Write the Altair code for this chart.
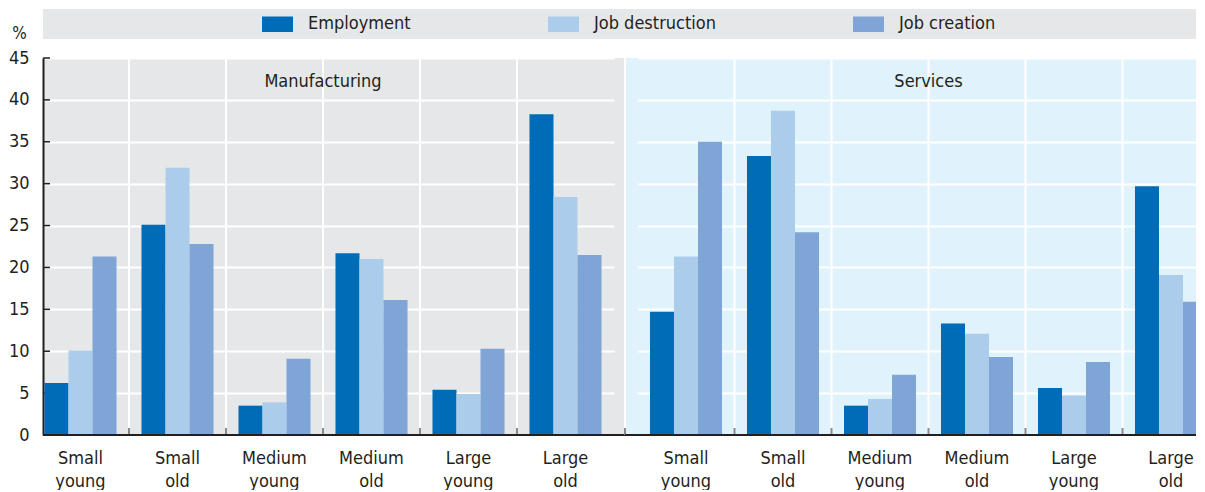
import altair as alt
import pandas as pd

# ---------------- data ----------------
categories = ["Small young", "Small old", "Medium young", "Medium old", "Large young", "Large old"]
sectors = ["Manufacturing", "Services"]
series = ["Employment", "Job destruction", "Job creation"]
colors = ["#006bb6", "#abcdeb", "#7fa4d6"]

manufacturing_employment = [6.2, 25.1, 3.5, 21.7, 5.4, 38.3]
manufacturing_destruction = [10.1, 31.9, 3.9, 21.0, 4.9, 28.4]
manufacturing_creation = [21.3, 22.8, 9.1, 16.1, 10.3, 21.5]

services_employment = [14.7, 33.3, 3.5, 13.3, 5.6, 29.7]
services_destruction = [21.3, 38.7, 4.3, 12.1, 4.7, 19.1]
services_creation = [35.0, 24.2, 7.2, 9.3, 8.7, 15.9]

y_ticks = [0, 5, 10, 15, 20, 25, 30, 35, 40, 45]

values = {
    "Manufacturing": [manufacturing_employment, manufacturing_destruction, manufacturing_creation],
    "Services": [services_employment, services_destruction, services_creation],
}
rows = []
for sec in sectors:
    for s, vals in zip(series, values[sec]):
        for c, v in zip(categories, vals):
            rows.append({"sector": sec, "category": c, "series": s, "value": v})
df = pd.DataFrame(rows)

# ---------------- style ----------------
FONT = "DejaVu Sans Condensed, Liberation Sans Narrow, Roboto, sans-serif"
FS = 18
TXT = "#231f20"
H = 377
W_MFG = 582
W_SRV = 571
TOTAL_W = W_MFG + W_SRV
OVERFLOW = 11  # last services bars run past the panel edge and are cropped
BG = {"Manufacturing": "#e6e7e9", "Services": "#e0f2fc"}

yscale = alt.Scale(domain=[0, 45], nice=False, zero=True)


def panel(sector, width, x_range, grid_cats, grid_pos, first):
    xscale = alt.Scale(domain=categories, range=x_range, paddingInner=0, paddingOuter=0)
    d = df[df.sector == sector]
    grid_df = pd.DataFrame({"category": grid_cats})
    lab_df = pd.DataFrame({"category": [categories[2]], "label": [sector]})

    if first:
        yaxis = alt.Axis(values=y_ticks, grid=True, gridColor="white", gridWidth=2, gridOpacity=1,
                         domain=True, domainColor=TXT, domainWidth=2, ticks=False,
                         labelPadding=14, labelFontSize=FS, labelColor=TXT, labelFont=FONT,
                         title="%", titleAngle=0, titleX=-24, titleY=-20, titleAlign="center",
                         titleBaseline="alphabetic", titleFontSize=FS - 1, titleFontWeight="normal",
                         titleColor=TXT, titleFont=FONT)
    else:
        yaxis = alt.Axis(values=y_ticks, grid=True, gridColor="white", gridWidth=2, gridOpacity=1,
                         domain=False, ticks=False, labels=False, title=None)

    xaxis = alt.Axis(title=None, domain=False, ticks=False, grid=False, labelAngle=0,
                     labelFontSize=FS, labelColor=TXT, labelFont=FONT, labelPadding=14,
                     labelLineHeight=23, labelExpr="split(datum.label, ' ')")

    grid = alt.Chart(grid_df).mark_rule(color="white", strokeWidth=2).encode(
        x=alt.X("category:N", scale=xscale, sort=categories, bandPosition=grid_pos, axis=xaxis),
        y=alt.value(0), y2=alt.value(H))
    xticks = alt.Chart(grid_df).mark_rule(color="#8a8a8a", strokeWidth=2).encode(
        x=alt.X("category:N", scale=xscale, sort=categories, bandPosition=grid_pos, axis=xaxis),
        y=alt.value(H - 7), y2=alt.value(H))

    bars = alt.Chart(d).mark_bar(clip=True).encode(
        x=alt.X("category:N", scale=xscale, sort=categories, axis=xaxis),
        xOffset=alt.XOffset("series:N", sort=series,
                            scale=alt.Scale(domain=series, paddingInner=0, paddingOuter=0.52)),
        y=alt.Y("value:Q", scale=yscale, axis=yaxis),
        color=alt.Color("series:N", sort=series, scale=alt.Scale(domain=series, range=colors),
                        legend=alt.Legend(orient="none", legendX=219, legendY=-49.5,
                                          direction="horizontal", columns=3, title=None,
                                          symbolType="M-1,-0.5H1V0.5H-1Z", symbolSize=961,
                                          symbolStrokeWidth=0, symbolOpacity=1,
                                          labelFontSize=FS, labelColor=TXT, labelFont=FONT,
                                          labelOffset=15, columnPadding=137, padding=0)),
    )

    sector_text = alt.Chart(lab_df).mark_text(
        fontSize=FS, font=FONT, color=TXT, align="center", baseline="alphabetic").encode(
        x=alt.X("category:N", scale=xscale, sort=categories, bandPosition=1, axis=xaxis),
        y=alt.value(29), text="label:N")

    xline = alt.Chart(lab_df).mark_rule(color=TXT, strokeWidth=2).encode(
        x=alt.value(0), x2=alt.value(width), y=alt.value(H))

    if first:
        band = alt.Chart(lab_df).mark_rect(color="#e6e7e9").encode(
            x=alt.value(0), x2=alt.value(TOTAL_W), y=alt.value(-49), y2=alt.value(-19))
        yt = alt.Chart(pd.DataFrame({"v": y_ticks})).mark_rule(color=TXT, strokeWidth=1.5).encode(
            y=alt.Y("v:Q", scale=yscale, axis=yaxis), x=alt.value(0), x2=alt.value(7))
        layers = [band, grid, xticks, yt, bars, sector_text, xline]
    else:
        divider = alt.Chart(lab_df).mark_rule(color="white", strokeWidth=2).encode(
            x=alt.value(0), y=alt.value(0), y2=alt.value(H))
        divtick = alt.Chart(lab_df).mark_rule(color="#8a8a8a", strokeWidth=2).encode(
            x=alt.value(0), y=alt.value(H - 7), y2=alt.value(H))
        layers = [grid, divider, xticks, divtick, bars, sector_text, xline]

    return alt.layer(*layers).properties(
        width=width, height=H,
        view=alt.ViewBackground(fill=BG[sector], stroke=None))


mfg = panel("Manufacturing", W_MFG, [-11, 571], categories[:5], 1, True)
srv = panel("Services", W_SRV, [12.5, 594.5], categories[1:], 0, False)

chart = alt.hconcat(mfg, srv, spacing=0, bounds="flush").resolve_scale(
    x="independent", y="shared", color="shared", xOffset="independent"
).properties(padding={"left": 0, "top": 0, "right": -OVERFLOW, "bottom": 0},
             background="white").configure_view(stroke=None)

chart.save("out.html", embed_options={"renderer": "svg", "actions": False})
